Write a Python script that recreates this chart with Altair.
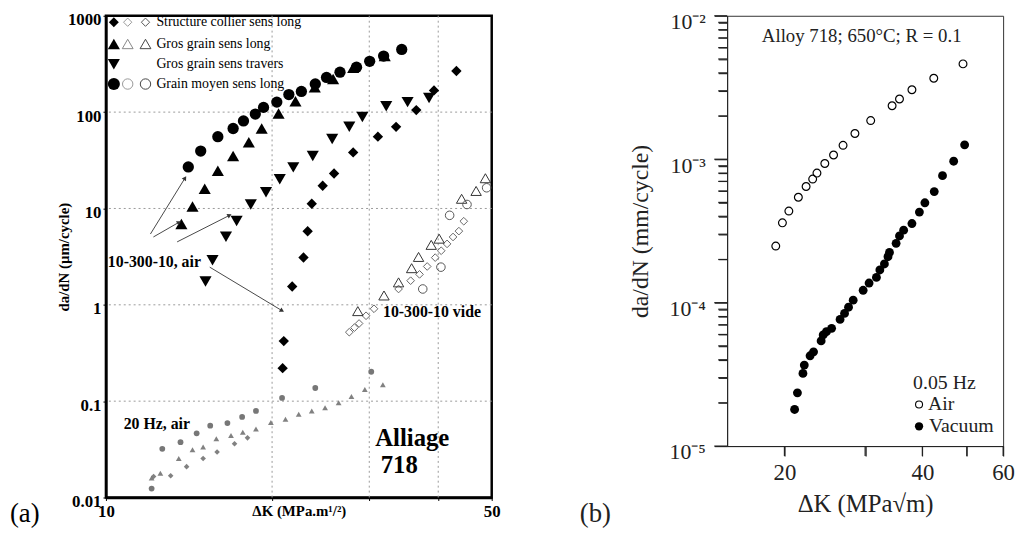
import altair as alt
import pandas as pd

SERIF = "Liberation Serif"

# ================= Panel (a): Alliage 718, da/dN (um/cycle) vs dK =================
a_x_ticks = [10, 20, 30, 40, 50]
a_y_ticks = [0.01, 0.1, 1, 10, 100, 1000]

# 10-300-10, air (filled symbols)
collier_x = [20.9, 21.0, 21.75, 22.8, 23.2, 23.6, 24.7, 25.9, 28.05, 31.1, 33.55, 36.5, 39.3, 43.15]
collier_y = [0.22, 0.42, 1.55, 3.1, 5.8, 11.2, 17.2, 23.1, 38.2, 55.6, 70.3, 105, 168, 267]
gg_long_x = [13.7, 14.35, 15.1, 15.95, 17.0, 18.15, 19.15, 20.55, 22.05, 23.9, 25.8, 28.05, 32.0]
gg_long_y = [6.9, 10.5, 16.0, 24.6, 35.0, 48.6, 67.6, 97, 130, 181, 221, 288, 382]
gg_trav_x = [15.15, 15.6, 16.5, 17.25, 18.3, 19.5, 20.65, 21.85, 23.7, 25.7, 27.6, 29.15, 32.2, 35.2, 38.5]
gg_trav_y = [1.75, 2.9, 5.1, 7.4, 11.0, 14.7, 20.1, 26.7, 35.0, 52.6, 70.3, 88.9, 115, 127, 140]
gm_long_x = [14.1, 14.85, 15.95, 17.0, 17.75, 18.65, 19.3, 20.4, 21.45, 22.6, 23.95, 25.1, 26.55,
             28.45, 30.05, 31.85, 34.35]
gm_long_y = [27.0, 39.4, 55.6, 67.6, 81.0, 95.4, 112, 127, 152, 164, 196, 229, 260, 293, 337, 382, 447]

# 10-300-10 vide (open symbols)
vide_collier_x = [27.6, 28.2, 28.75, 29.6, 30.6, 33.9, 35.65, 37.0, 38.2, 39.5, 40.5, 41.5, 42.55, 43.6, 44.5]
vide_collier_y = [0.52, 0.58, 0.64, 0.77, 0.91, 1.46, 1.78, 2.07, 2.5, 3.09, 3.64, 4.29, 5.06, 5.82, 7.37]
vide_gg_x = [28.6, 31.9, 33.9, 35.8, 36.85, 38.85, 40.15, 44.1, 46.85, 48.7]
vide_gg_y = [0.86, 1.25, 1.71, 2.40, 3.14, 4.19, 4.86, 12.6, 15.2, 20.6]
vide_gm_x = [37.5, 40.45, 41.95, 45.1, 48.95]
vide_gm_y = [1.46, 2.46, 8.49, 11.0, 16.4]

# 20 Hz, air (small grey symbols)
hz_circ_x = [12.1, 12.65, 13.65, 14.6, 15.45, 16.6, 17.65, 18.7, 20.85, 23.95, 30.25]
hz_circ_y = [0.0124, 0.032, 0.0375, 0.0464, 0.0556, 0.0592, 0.0687, 0.0791, 0.108, 0.137, 0.202]
hz_tri_x = [12.1, 12.55, 13.55, 14.35, 15.0, 15.85, 16.85, 17.7, 18.7, 19.9, 21.15, 22.35, 23.6, 24.95,
            26.4, 27.85, 29.45, 31.75]
hz_tri_y = [0.0159, 0.0179, 0.0254, 0.0314, 0.0334, 0.0407, 0.044, 0.0475, 0.0514, 0.0601, 0.065,
            0.0731, 0.0791, 0.0855, 0.0961, 0.112, 0.132, 0.148]
hz_dia_x = [12.2, 13.1, 14.0, 15.0, 15.9, 17.1, 18.05]
hz_dia_y = [0.0165, 0.0168, 0.0209, 0.0254, 0.0297, 0.0361, 0.0416]

# arrows (data coordinates: start -> end) and in-plot labels
arrow_x1 = [12.04, 12.19, 13.46, 15.42]
arrow_y1 = [5.43, 5.06, 4.5, 2.46]
arrow_x2 = [13.91, 13.57, 16.75, 20.85]
arrow_y2 = [20.7, 7.2, 8.49, 0.869]
arrow_angle = [32, 60, 63, 121]

a_note_text = ["10-300-10, air", "10-300-10 vide", "20 Hz, air", "Alliage", "718"]
a_note_x = [10.08, 31.77, 10.77, 30.75, 31.46]
a_note_y = [2.81, 0.849, 0.0582, 0.041, 0.0217]

a_legend_labels = ["Structure collier sens long", "Gros grain sens long",
                   "Gros grain sens travers", "Grain moyen sens long"]

# ================= Panel (b): Alloy 718; 650°C; R = 0.1 =================
b_x_ticks = [20, 30, 40, 50, 60]
b_y_major = [1e-5, 1e-4, 1e-3, 1e-2]
b_y_minor = [k * 10.0 ** e for e in (-5, -4, -3) for k in range(2, 10)]

air_x = [19.15, 19.8, 20.45, 21.45, 22.3, 23.05, 23.55, 24.5, 25.6, 26.85, 28.5, 30.85, 34.35,
         35.65, 37.95, 42.35, 49.05]
air_y = [2.48e-4, 3.6e-4, 4.35e-4, 5.43e-4, 6.45e-4, 7.27e-4, 8.0e-4, 9.34e-4, 1.07e-3, 1.25e-3,
         1.51e-3, 1.86e-3, 2.36e-3, 2.63e-3, 3.05e-3, 3.67e-3, 4.62e-3]
vac_x = [21.05, 21.35, 21.95, 22.1, 22.75, 23.15, 24.05, 24.3, 24.7, 25.35, 26.45, 27.05, 27.6,
         28.25, 29.7, 30.6, 31.75, 32.3, 33.05, 33.65, 33.9, 35.05, 35.65, 36.4, 37.95, 39.4, 40.5,
         42.45, 44.25, 46.8, 49.45]
vac_y = [1.80e-5, 2.35e-5, 3.21e-5, 3.67e-5, 4.26e-5, 4.54e-5, 5.41e-5, 5.96e-5, 6.27e-5, 6.62e-5,
         7.64e-5, 8.41e-5, 9.29e-5, 1.04e-4, 1.22e-4, 1.37e-4, 1.50e-4, 1.69e-4, 1.86e-4, 2.09e-4,
         2.24e-4, 2.59e-4, 2.92e-4, 3.20e-4, 3.56e-4, 4.28e-4, 4.97e-4, 5.95e-4, 7.68e-4, 9.68e-4,
         1.26e-3]


def df(xs, ys):
    return pd.DataFrame({"x": xs, "y": ys})


ONE = pd.DataFrame({"k": [0]})


def txt_px(s, px, py, size, weight="normal", align="left", color="black"):
    return alt.Chart(pd.DataFrame({"t": [s]})).mark_text(
        align=align, baseline="middle", font=SERIF, fontSize=size, fontWeight=weight, color=color
    ).encode(x=alt.value(px), y=alt.value(py), text="t:N")


def sym_px(px, py, shape, filled, color, size, sw=1.0):
    return alt.Chart(ONE).mark_point(
        shape=shape, filled=filled, color=color, size=size, strokeWidth=sw, opacity=1
    ).encode(x=alt.value(px), y=alt.value(py))


# ---------------- panel (a) ----------------
xa = alt.Scale(type="log", domain=[10, 50], nice=False)
ya = alt.Scale(type="log", domain=[0.01, 1000], nice=False)


def XA(axis=None):
    return alt.X("x:Q", scale=xa, axis=axis)


def YA(axis=None):
    return alt.Y("y:Q", scale=ya, axis=axis)


GRID = "#9a9a9a"
axis_xa = alt.Axis(
    orient="bottom", values=a_x_ticks,
    labelExpr="(datum.value == 10 || datum.value == 50) ? format(datum.value, 'd') : ''",
    grid=False, tickSize=3, tickColor="black", domainColor="black", domainWidth=2.5,
    labelFlush=False,
    labelFont=SERIF, labelFontSize=17, labelFontWeight="bold", labelColor="black", labelPadding=3,
    title="ΔK (MPa.m¹/²)", titleFont=SERIF, titleFontSize=15, titleFontWeight="bold",
    titleColor="black", titleY=13, titleBaseline="middle",
)
axis_ya = alt.Axis(
    orient="left", values=a_y_ticks, labelExpr="format(datum.value, '~g')",
    grid=False, tickSize=3, tickColor="black", domainColor="black", domainWidth=2.5,
    labelFont=SERIF, labelFontSize=17, labelFontWeight="bold", labelColor="black",
    labelPadding=2, labelOffset=4,
    title="da/dN (µm/cycle)", titleFont=SERIF, titleFontSize=15, titleFontWeight="bold",
    titleColor="black", titleX=-43, titleBaseline="middle",
)

grid_x = pd.DataFrame({"x": a_x_ticks[1:-1]})
grid_y = pd.DataFrame({"y": a_y_ticks[1:-1]})

layers_a = [
    alt.Chart(grid_x).mark_rule(color=GRID, strokeWidth=1, strokeDash=[2, 3]).encode(x=XA()),
    alt.Chart(grid_y).mark_rule(color=GRID, strokeWidth=1, strokeDash=[2, 3]).encode(y=YA()),
    # axes carrier (invisible)
    alt.Chart(df([10, 50], [0.01, 1000])).mark_point(opacity=0, size=1)
    .encode(x=XA(axis_xa), y=YA(axis_ya)),
    alt.Chart(df(gm_long_x, gm_long_y)).mark_circle(size=130, color="black", opacity=1)
    .encode(x=XA(), y=YA()),
    alt.Chart(df(gg_long_x, gg_long_y)).mark_point(shape="triangle-up", filled=True, color="black",
                                                   size=150, opacity=1).encode(x=XA(), y=YA()),
    alt.Chart(df(gg_trav_x, gg_trav_y)).mark_point(shape="triangle-down", filled=True, color="black",
                                                   size=150, opacity=1).encode(x=XA(), y=YA()),
    alt.Chart(df(collier_x, collier_y)).mark_point(shape="diamond", filled=True, color="black",
                                                   size=110, opacity=1).encode(x=XA(), y=YA()),
    alt.Chart(df(vide_collier_x, vide_collier_y)).mark_point(shape="diamond", filled=False, color="#666",
                                                             size=60, strokeWidth=1, opacity=1)
    .encode(x=XA(), y=YA()),
    alt.Chart(df(vide_gg_x, vide_gg_y)).mark_point(shape="triangle-up", filled=False, color="#333",
                                                   size=110, strokeWidth=1, opacity=1)
    .encode(x=XA(), y=YA()),
    alt.Chart(df(vide_gm_x, vide_gm_y)).mark_point(shape="circle", filled=False, color="#555",
                                                   size=75, strokeWidth=1, opacity=1)
    .encode(x=XA(), y=YA()),
    alt.Chart(df(hz_circ_x, hz_circ_y)).mark_point(shape="circle", filled=True, color="#707070",
                                                   size=34, opacity=0.95).encode(x=XA(), y=YA()),
    alt.Chart(df(hz_tri_x, hz_tri_y)).mark_point(shape="triangle-up", filled=True, color="#7a7a7a",
                                                 size=34, opacity=0.95).encode(x=XA(), y=YA()),
    alt.Chart(df(hz_dia_x, hz_dia_y)).mark_point(shape="diamond", filled=True, color="#7a7a7a",
                                                 size=32, opacity=0.95).encode(x=XA(), y=YA()),
]

arrows = pd.DataFrame({"x": arrow_x1, "y": arrow_y1, "x2": arrow_x2, "y2": arrow_y2,
                       "ang": arrow_angle})
layers_a.append(
    alt.Chart(arrows).mark_rule(color="#333", strokeWidth=0.9).encode(
        x=XA(), y=YA(), x2="x2:Q", y2="y2:Q")
)
layers_a.append(
    alt.Chart(arrows).mark_point(shape="triangle-up", filled=True, color="#333", size=26, opacity=1)
    .encode(x=alt.X("x2:Q", scale=xa, axis=None), y=alt.Y("y2:Q", scale=ya, axis=None),
            angle=alt.Angle("ang:Q", scale=None))
)

a_note_size = [16, 16, 16, 25, 25]
for t, nx, ny, fs in zip(a_note_text, a_note_x, a_note_y, a_note_size):
    layers_a.append(
        alt.Chart(pd.DataFrame({"x": [nx], "y": [ny], "t": [t]})).mark_text(
            align="left", baseline="middle", font=SERIF, fontSize=fs, fontWeight="bold", color="black"
        ).encode(x=XA(), y=YA(), text="t:N")
    )

# legend of panel (a)
leg_rows = [6.5, 28.5, 49, 69]
layers_a += [
    sym_px(8, leg_rows[0], "diamond", True, "black", 100),
    sym_px(22, leg_rows[0], "diamond", False, "#999", 70),
    sym_px(40, leg_rows[0], "diamond", False, "#555", 70),
    sym_px(8, leg_rows[1], "triangle-up", True, "black", 150),
    sym_px(22, leg_rows[1], "triangle-up", False, "#888", 120),
    sym_px(40, leg_rows[1], "triangle-up", False, "#444", 120),
    sym_px(8, leg_rows[2], "triangle-down", True, "black", 150),
    sym_px(8, leg_rows[3], "circle", True, "black", 150),
    sym_px(22, leg_rows[3], "circle", False, "#999", 110),
    sym_px(40, leg_rows[3], "circle", False, "#444", 110),
]
for lab, ry in zip(a_legend_labels, leg_rows):
    layers_a.append(txt_px(lab, 51, ry, 14))
layers_a.append(txt_px("(a)", -97, 504, 27))

panel_a = alt.layer(*layers_a).resolve_axis(x="independent", y="independent").properties(
    width=390, height=487,
    view=alt.ViewBackground(stroke="black", strokeWidth=2.5, fill="white"),
)

# ---------------- panel (b) ----------------
xb = alt.Scale(type="log", domain=[15, 60], nice=False)
yb = alt.Scale(type="log", domain=[1e-5, 1e-2], nice=False)
AX = "#222"

axis_xb = alt.Axis(
    orient="bottom", values=b_x_ticks,
    labelExpr="(datum.value == 30 || datum.value == 50) ? '' : format(datum.value, 'd')",
    grid=False, tickSize=10, tickColor=AX, tickWidth=1.2, domainColor=AX, labelFlush=False,
    labelFont=SERIF, labelFontSize=23, labelColor="#222", labelPadding=6,
    title="ΔK (MPa√m)", titleFont=SERIF, titleFontSize=25, titleFontWeight="normal",
    titleColor="#222", titlePadding=7,
)
axis_yb_major = alt.Axis(
    orient="left", values=b_y_major,
    labelExpr="'10' + (datum.value < 3e-5 ? '⁻⁵' : datum.value < 3e-4 ? '⁻⁴' : datum.value < 3e-3 ? '⁻³' : '⁻²')",
    grid=False, tickSize=13, tickColor=AX, tickWidth=1.2, domainColor=AX,
    labelFont=SERIF, labelFontSize=22, labelColor="#222", labelPadding=9, labelOffset=6,
    title="da/dN (mm/cycle)", titleFont=SERIF, titleFontSize=24, titleFontWeight="normal",
    titleColor="#222", titleX=-88, titleBaseline="middle",
)
axis_yb_minor = alt.Axis(
    orient="left", values=b_y_minor, labels=False, tickSize=9, tickColor=AX, tickWidth=1.2,
    domain=False, grid=False, title=None,
)


def XB(axis=None):
    return alt.X("x:Q", scale=xb, axis=axis)


def YB(axis=None):
    return alt.Y("y:Q", scale=yb, axis=axis)


tick_x = pd.DataFrame({"x": b_x_ticks})
tick_ymaj = pd.DataFrame({"y": b_y_major})
tick_ymin = pd.DataFrame({"y": b_y_minor})

layers_b = [
    # explicit outward tick marks drawn through the scales
    alt.Chart(tick_x).mark_rule(color=AX, strokeWidth=1.2).encode(
        x=XB(), y=alt.value(435), y2=alt.value(445)),
    alt.Chart(tick_ymaj).mark_rule(color=AX, strokeWidth=1.2).encode(
        y=YB(), x=alt.value(-13), x2=alt.value(0)),
    alt.Chart(tick_ymin).mark_rule(color=AX, strokeWidth=1.2).encode(
        y=YB(), x=alt.value(-9), x2=alt.value(0)),
    alt.Chart(df(vac_x, vac_y)).mark_circle(size=80, color="black", opacity=1).encode(
        x=XB(axis_xb), y=YB(axis_yb_major)),
    alt.Chart(df(air_x, air_y)).mark_point(shape="circle", filled=False, color="black", size=62,
                                           strokeWidth=1.2, opacity=1).encode(
        x=XB(), y=YB(axis_yb_minor)),
    txt_px("Alloy 718; 650°C; R = 0.1", 136, 21, 19, align="center", color="#222"),
    txt_px("0.05 Hz", 188, 371, 20, color="#222"),
    sym_px(194, 393, "circle", False, "black", 50, 1.1),
    txt_px("Air", 203, 393, 20, color="#222"),
    sym_px(194, 415, "circle", True, "black", 70),
    txt_px("Vacuum", 204, 415, 20, color="#222"),
    txt_px("(b)", -149, 504, 27, color="#222"),
]

panel_b = alt.layer(*layers_b).resolve_axis(x="independent", y="independent").properties(
    width=279, height=435,
    view=alt.ViewBackground(stroke="#333", strokeWidth=1, fill="white"),
)

chart = alt.hconcat(panel_a, panel_b, spacing=78).properties(
    padding={"left": 0, "top": -2, "right": 0, "bottom": 0},
    background="white",
)

chart.save("out.html", embed_options={"renderer": "svg", "actions": False})
